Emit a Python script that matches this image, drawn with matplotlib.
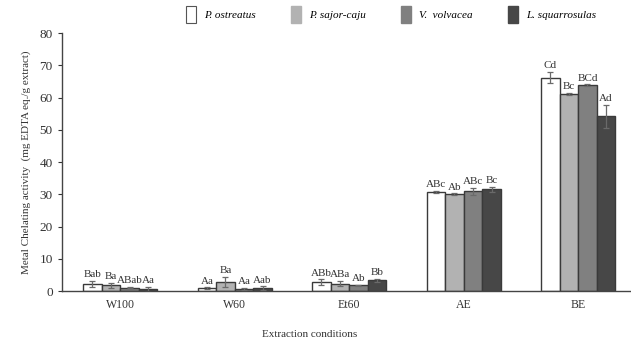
import matplotlib
matplotlib.use("Agg")
import matplotlib.pyplot as plt
import numpy as np

conditions = ["W100", "W60", "Et60", "AE", "BE"]
species = ["P. ostreatus", "P. sajor-caju", "V.  volvacea", "L. squarrosulas"]

p_ostreatus = [2.1, 0.9, 2.8, 30.7, 66.2]
p_sajor = [1.8, 2.7, 2.3, 30.0, 61.2]
v_volvacea = [1.0, 0.6, 1.8, 30.9, 63.8]
l_squarr = [0.5, 0.9, 3.3, 31.6, 54.2]

err_ostreatus = [1.0, 0.2, 0.8, 0.3, 1.8]
err_sajor = [0.8, 1.6, 0.8, 0.3, 0.3]
err_volvacea = [0.2, 0.3, 0.2, 1.2, 0.3]
err_squarr = [0.8, 0.6, 0.4, 0.8, 3.5]

lab_ostreatus = ["Bab", "Aa", "ABb", "ABc", "Cd"]
lab_sajor = ["Ba", "Ba", "ABa", "Ab", "Bc"]
lab_volvacea = ["ABab", "Aa", "Ab", "ABc", "BCd"]
lab_squarr = ["Aa", "Aab", "Bb", "Bc", "Ad"]

values = [p_ostreatus, p_sajor, v_volvacea, l_squarr]
errors = [err_ostreatus, err_sajor, err_volvacea, err_squarr]
letters = [lab_ostreatus, lab_sajor, lab_volvacea, lab_squarr]
colors = ["#ffffff", "#b2b2b2", "#808080", "#474747"]

plt.rcParams['font.family'] = ['Liberation Serif', 'DejaVu Serif']

fig = plt.figure(figsize=(6.31, 3.44), dpi=100)
ax = fig.add_axes([0.098, 0.154, 0.9, 0.75])

x = np.arange(len(conditions))
w = 0.162
for i in range(4):
    pos = x + (i - 1.5) * w
    ax.bar(pos, values[i], width=w, color=colors[i], edgecolor="#3a3a3a",
           linewidth=1.0, label=species[i], zorder=2)
    ax.errorbar(pos, values[i], yerr=errors[i], fmt="none", ecolor="#6a6a6a",
                elinewidth=0.9, capsize=2, capthick=0.9, zorder=3)
    for p, v, e, t in zip(pos, values[i], errors[i], letters[i]):
        ax.annotate(t, (p, v + e), xytext=(0, 1.2), textcoords="offset points",
                    ha="center", va="bottom", fontsize=8.0, color="#333333")

ax.set_xlim(-0.51, 4.45)
ax.set_ylim(0, 80)
ax.set_yticks(range(0, 81, 10))
ax.tick_params(axis='y', labelsize=9.5, length=3, colors="#333333")
ax.tick_params(axis='x', length=0, labelsize=8.5, pad=6, colors="#333333")
ax.set_xticks(x)
ax.set_xticklabels(conditions)
for s in ["top", "right"]:
    ax.spines[s].set_visible(False)
for s in ["left", "bottom"]:
    ax.spines[s].set_color("#444444")
    ax.spines[s].set_linewidth(1.0)

ax.set_ylabel("Metal Chelating activity  (mg EDTA eq./g extract)", fontsize=8, color="#333333", labelpad=6)
fig.text(0.49, 0.015, "Extraction conditions", ha="center", va="bottom", fontsize=8, color="#333333")

leg = ax.legend(loc="lower center", bbox_to_anchor=(0.58, 1.0), ncol=4, frameon=False,
                prop={'style': 'italic', 'size': 8}, handlelength=0.9, handleheight=2.0,
                columnspacing=3.2, handletextpad=0.7)
for h, c in zip(leg.legend_handles, colors):
    if c != "#ffffff":
        h.set_edgecolor(c)
    else:
        h.set_edgecolor("#555555")
        h.set_linewidth(0.8)

fig.savefig("out.png", dpi=100)
